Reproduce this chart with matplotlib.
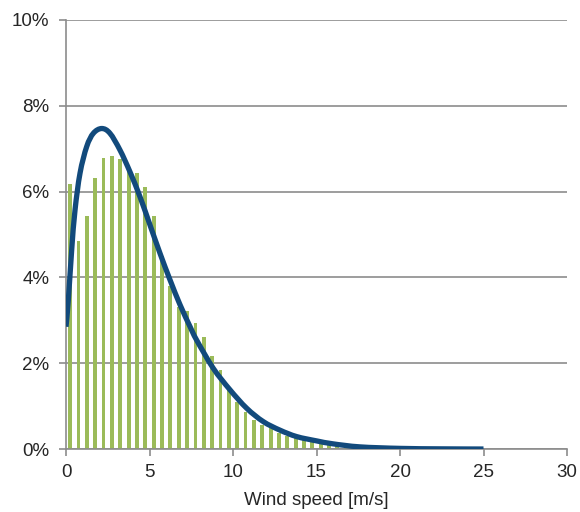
import matplotlib.pyplot as plt
from matplotlib.path import Path
from matplotlib.patches import PathPatch
from matplotlib.ticker import FuncFormatter

plt.rcParams['font.family'] = ['Liberation Sans', 'DejaVu Sans']

# histogram: share of time per 0.5 m/s bin [%]
bin_centers = [0.25, 0.75, 1.25, 1.75, 2.25, 2.75, 3.25, 3.75, 4.25, 4.75,
               5.25, 5.75, 6.25, 6.75, 7.25, 7.75, 8.25, 8.75, 9.25, 9.75,
               10.25, 10.75, 11.25, 11.75, 12.25, 12.75, 13.25, 13.75, 14.25, 14.75,
               15.25, 15.75, 16.25, 16.75, 17.25, 17.75, 18.25]
bin_share = [6.17, 4.85, 5.44, 6.32, 6.78, 6.84, 6.75, 6.55, 6.44, 6.11,
             5.44, 4.50, 3.80, 3.30, 3.22, 2.93, 2.62, 2.17, 1.84, 1.40,
             1.10, 0.87, 0.68, 0.56, 0.48, 0.38, 0.31, 0.25, 0.20, 0.16,
             0.12, 0.09, 0.06, 0.04, 0.03, 0.02, 0.01]

# fitted distribution curve [%]
curve_x = [0, 0.14, 0.34, 0.54, 0.84, 1.24, 1.64, 2.14, 2.63, 3.23,
           3.83, 4.43, 5.03, 5.63, 6.23, 6.83, 7.43, 7.82, 8.82, 9.82,
           10.82, 11.81, 12.81, 13.81, 15.0, 16.0, 17.6, 20.0, 22.5, 25.0]
curve_y = [2.85, 3.47, 4.64, 5.57, 6.43, 7.05, 7.36, 7.47, 7.36, 6.97,
           6.46, 5.88, 5.22, 4.56, 3.94, 3.36, 2.85, 2.54, 1.88, 1.38,
           0.95, 0.64, 0.44, 0.29, 0.19, 0.12, 0.05, 0.015, 0.004, 0.0]

grey = '#8c8c8c'
txt = '#262626'


def smooth_path(xs, ys):
    # Excel-style smoothed line: cubic Bezier segments through the points
    verts = [(xs[0], ys[0])]
    codes = [Path.MOVETO]
    n = len(xs)
    for i in range(n - 1):
        x0, y0 = (xs[i - 1], ys[i - 1]) if i > 0 else (xs[i], ys[i])
        x1, y1 = xs[i], ys[i]
        x2, y2 = xs[i + 1], ys[i + 1]
        x3, y3 = (xs[i + 2], ys[i + 2]) if i + 2 < n else (x2, y2)
        c1 = (x1 + (x2 - x0) / 6, y1 + (y2 - y0) / 6)
        c2 = (x2 - (x3 - x1) / 6, y2 - (y3 - y1) / 6)
        verts += [c1, c2, (x2, y2)]
        codes += [Path.CURVE4] * 3
    return Path(verts, codes)


fig = plt.figure(figsize=(5.8, 5.12), dpi=100)
ax = fig.add_axes([0.1138, 0.123, 0.8638, 0.838])

ax.bar(bin_centers, bin_share, width=0.23, color='#9bbb59', zorder=2)
ax.add_patch(PathPatch(smooth_path(curve_x, curve_y), facecolor='none',
                       edgecolor='#124a7c', linewidth=3.8, zorder=3,
                       capstyle='butt', joinstyle='round'))

ax.set_xlim(0, 30)
ax.set_ylim(0, 10)
ax.set_xticks(range(0, 31, 5))
ax.set_yticks(range(0, 11, 2))
ax.yaxis.set_major_formatter(FuncFormatter(lambda v, p: f"{int(v)}%"))

ax.grid(axis='y', color=grey, linewidth=1.2)
ax.set_axisbelow(True)
for s in ['top', 'right']:
    ax.spines[s].set_visible(False)
for s in ['left', 'bottom']:
    ax.spines[s].set_color(grey)
    ax.spines[s].set_linewidth(1.2)

ax.tick_params(axis='both', colors=grey, labelcolor=txt, labelsize=13.5,
               length=5, width=1.2)
ax.tick_params(axis='x', pad=6)
ax.tick_params(axis='y', pad=7)

ax.set_xlabel("Wind speed [m/s]", fontsize=13.5, color=txt, labelpad=8)

plt.savefig("out.png", dpi=100)
